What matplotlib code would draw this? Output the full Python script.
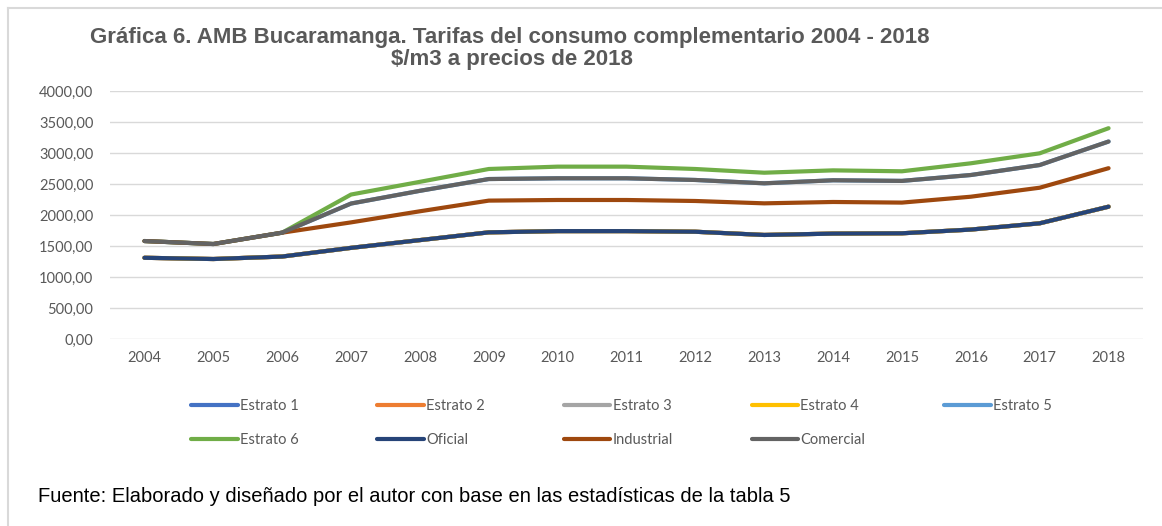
import matplotlib
matplotlib.use("Agg")
import matplotlib.pyplot as plt
from matplotlib.lines import Line2D

years = ["2004", "2005", "2006", "2007", "2008", "2009", "2010", "2011",
         "2012", "2013", "2014", "2015", "2016", "2017", "2018"]

oficial = [1310, 1290, 1330, 1470, 1595, 1720, 1740, 1740, 1730, 1678, 1700, 1705, 1765, 1866, 2134]
estrato_1 = list(oficial)
estrato_2 = list(oficial)
estrato_3 = list(oficial)
estrato_4 = list(oficial)
comercial = [1580, 1532, 1715, 2185, 2390, 2580, 2592, 2592, 2565, 2511, 2560, 2550, 2645, 2806, 3185]
estrato_5 = list(comercial)
estrato_6 = [1580, 1532, 1715, 2330, 2535, 2742, 2780, 2780, 2742, 2682, 2720, 2705, 2834, 2995, 3400]
industrial = [1580, 1532, 1715, 1881, 2060, 2232, 2242, 2242, 2226, 2188, 2210, 2200, 2295, 2440, 2755]

series_names = ["Estrato 1", "Estrato 2", "Estrato 3", "Estrato 4", "Estrato 5",
                "Estrato 6", "Oficial", "Industrial", "Comercial"]
series_values = [estrato_1, estrato_2, estrato_3, estrato_4, estrato_5,
                 estrato_6, oficial, industrial, comercial]
colors = ["#4472C4", "#ED7D31", "#A5A5A5", "#FFC000", "#5B9BD5",
          "#70AD47", "#264478", "#9E480E", "#636363"]
yticks = [0, 500, 1000, 1500, 2000, 2500, 3000, 3500, 4000]

W, H = 1162, 526
fig = plt.figure(figsize=(W / 100, H / 100), dpi=100)
fig.patch.set_facecolor("white")

left, right, top_px, bot_px = 110, 1143, 91, 339
ax = fig.add_axes([left / W, 1 - bot_px / H, (right - left) / W, (bot_px - top_px) / H])

x = list(range(len(years)))
handles = {}
for name, vals, c in zip(series_names, series_values, colors):
    ln, = ax.plot(x, vals, color=c, lw=3.0, solid_capstyle="round", solid_joinstyle="round", label=name)
    handles[name] = ln

ax.set_xlim(-0.5, len(years) - 0.5)
ax.set_ylim(0, 4000)
ax.set_yticks(yticks)
ax.set_yticklabels([f"{v},00" for v in yticks])
ax.set_xticks(x)
ax.set_xticklabels(years)
ax.grid(axis="y", color="#D9D9D9", lw=1.0)
ax.set_axisbelow(True)
for s in ax.spines.values():
    s.set_visible(False)
ax.tick_params(axis="both", length=0, colors="#595959", labelsize=10.5)
ax.tick_params(axis="y", pad=12)
ax.tick_params(axis="x", pad=9)
for lab in ax.get_xticklabels() + ax.get_yticklabels():
    lab.set_fontfamily("Lato")

# Title
fig.text(510 / W, 1 - 38 / H, "Gráfica 6. AMB Bucaramanga. Tarifas del consumo complementario 2004 - 2018",
         ha="center", va="center", fontsize=16, fontweight="bold", color="#595959",
         family="Liberation Sans")
fig.text(512 / W, 1 - 60 / H, "$/m3 a precios de 2018",
         ha="center", va="center", fontsize=16, fontweight="bold", color="#595959",
         family="Liberation Sans")

# Legend (row-major order display)
order = ["Estrato 1", "Estrato 6", "Estrato 2", "Oficial", "Estrato 3",
         "Industrial", "Estrato 4", "Comercial", "Estrato 5"]
leg = fig.legend([handles[n] for n in order], order, ncol=5,
                 loc="upper left", bbox_to_anchor=(191 / W, 1 - 399 / H),
                 frameon=False, prop={"family": "Lato", "size": 10.5},
                 handlelength=3.2, handletextpad=0.15, columnspacing=5.4,
                 labelspacing=1.35, borderaxespad=0, borderpad=0)
for t in leg.get_texts():
    t.set_color("#595959")

# Footer
fig.text(38 / W, 1 - 497 / H, "Fuente: Elaborado y diseñado por el autor con base en las estadísticas de la tabla 5",
         ha="left", va="center", fontsize=14.5, color="black", family="Liberation Sans")

# Border
fig.add_artist(Line2D([8 / W, 1.0], [1 - 8 / H, 1 - 8 / H], color="#D9D9D9", lw=1.5))
fig.add_artist(Line2D([8 / W, 8 / W], [1 - 8 / H, 0.0], color="#D9D9D9", lw=1.5))

fig.savefig("out.png", dpi=100, facecolor="white")
